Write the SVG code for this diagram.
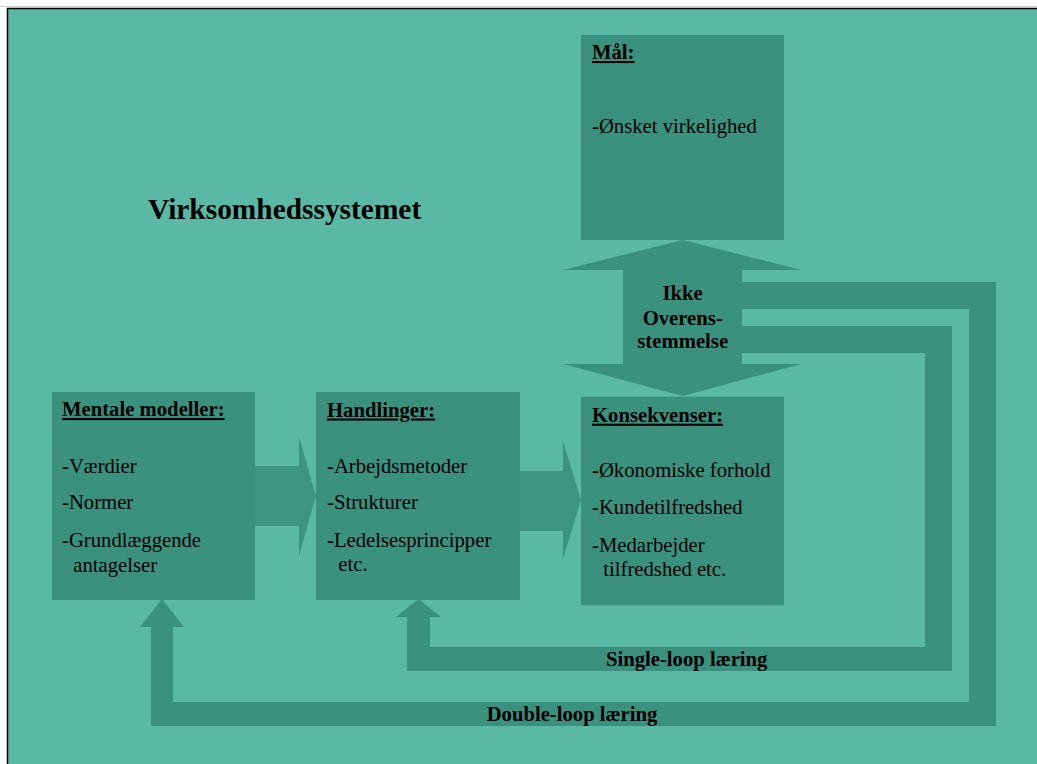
<svg xmlns="http://www.w3.org/2000/svg" width="1037" height="764" viewBox="0 0 1037 764">
<style>
.dk{fill:#3A917E}
.ar{fill:#3D9581}
text{font-family:"Liberation Serif","Times New Roman",serif;fill:#000;font-size:20.7px}
.b{font-weight:bold}
.u{text-decoration:underline}
.c{text-anchor:middle}
</style>
<rect x="0" y="0" width="1037" height="764" fill="#ffffff"/>
<line x1="0" y1="6.5" x2="1037" y2="6.5" stroke="#cfcfcf" stroke-width="1"/>
<rect x="7.5" y="8.5" width="1040" height="800" fill="#5AB9A5" stroke="#000" stroke-width="1.5"/>
<text x="148" y="219" class="b" style="font-size:29.4px">Virksomhedssystemet</text>
<g id="connectors">
<polygon class="ar" points="240,466 299,466 299,437 316,496 299,556 299,526 240,526"/>
<polygon class="ar" points="500,471 563,471 563,441 581,500 563,559 563,531 500,531"/>
<polygon class="dk" points="742,282 996,282 996,726 151,726 151,627 140,627 162,599 184,627 173,627 173,702 969,702 969,309 742,309"/>
<polygon class="dk" points="742,326 952,326 952,671 407,671 407,617 396,617 418.5,599 441,617 430,617 430,647 925,647 925,353 742,353"/>
<polygon id="double-arrow" class="dk" points="682.7,240 801,270 742,270 742,364 801,364 682.7,396 563,364 623,364 623,270 563,270"/>
</g>
<g id="maal">
<rect class="dk" x="581" y="35" width="203" height="205"/>
<text x="592" y="59" class="b u">Mål:</text>
<text x="592" y="133">-Ønsket virkelighed</text>
</g>
<g id="mentale">
<rect class="dk" x="52" y="392" width="203" height="208"/>
<text x="62" y="416" class="b u">Mentale modeller:</text>
<text x="62" y="472.5">-Værdier</text>
<text x="62" y="509.3">-Normer</text>
<text x="62" y="546.7">-Grundlæggende</text>
<text x="73.3" y="571.5">antagelser</text>
</g>
<g id="handlinger">
<rect class="dk" x="316" y="392" width="204" height="208"/>
<text x="327" y="416.5" class="b u">Handlinger:</text>
<text x="327" y="472.5">-Arbejdsmetoder</text>
<text x="327" y="509.3">-Strukturer</text>
<text x="327" y="546.7">-Ledelsesprincipper</text>
<text x="338.3" y="571">etc.</text>
</g>
<g id="konsekvenser">
<rect class="dk" x="581" y="396.7" width="203" height="208.5"/>
<text x="592" y="421.7" class="b u">Konsekvenser:</text>
<text x="592" y="477.3">-Økonomiske forhold</text>
<text x="592" y="514.3">-Kundetilfredshed</text>
<text x="592" y="551.7">-Medarbejder</text>
<text x="603.3" y="576">tilfredshed etc.</text>
</g>
<g id="ikke">
<text x="682.7" y="300" class="b c">Ikke</text>
<text x="682.7" y="325" class="b c">Overens-</text>
<text x="682.7" y="348.3" class="b c">stemmelse</text>
</g>
<g id="labels">
<text x="686.7" y="666" class="b c">Single-loop læring</text>
<text x="572" y="721" class="b c">Double-loop læring</text>
</g>
</svg>
